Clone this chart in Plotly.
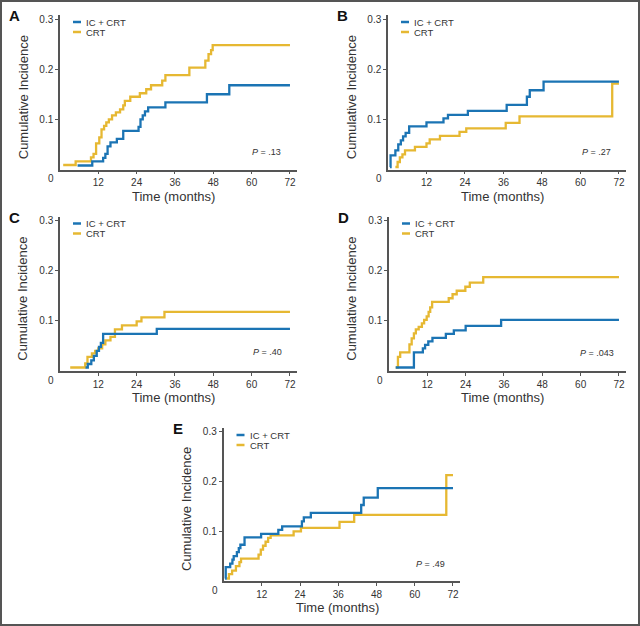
import plotly.graph_objects as go

# ---------------- data ----------------
x_tick_vals = [12, 24, 36, 48, 60, 72]
x_tick_labels = ["12", "24", "36", "48", "60", "72"]
y_tick_vals = [0.1, 0.2, 0.3]
y_tick_labels = ["0.1", "0.2", "0.3"]
series_names = ["IC + CRT", "CRT"]

# Panel A
a_ic_t = [5.5, 10.1, 13.5, 14.2, 14.9, 15.8, 17.8, 19.8, 24.6, 25.2, 25.9, 26.6, 27.6, 33.0, 46.0, 53.0, 72.0]
a_ic_v = [0.008, 0.016, 0.023, 0.031, 0.046, 0.054, 0.061, 0.077, 0.085, 0.100, 0.108, 0.116, 0.124, 0.134, 0.150, 0.168, 0.168]
a_crt_t = [1.0, 4.9, 9.7, 10.5, 11.3, 12.3, 13.0, 13.8, 14.5, 15.3, 16.3, 17.5, 18.8, 19.8, 20.3, 22.0, 25.0,
           27.0, 28.5, 32.0, 33.0, 40.5, 45.5, 46.5, 47.3, 47.8, 72.0]
a_crt_v = [0.009, 0.016, 0.024, 0.031, 0.052, 0.064, 0.080, 0.087, 0.094, 0.100, 0.108, 0.114, 0.120, 0.128, 0.137,
           0.145, 0.152, 0.160, 0.168, 0.177, 0.188, 0.203, 0.217, 0.230, 0.238, 0.248, 0.248]

# Panel B
b_ic_t = [0.6, 0.8, 2.3, 3.2, 4.0, 4.7, 5.5, 6.6, 12.0, 17.3, 18.7, 24.9, 37.0, 43.3, 44.2, 48.5, 72.0]
b_ic_v = [0.005, 0.028, 0.038, 0.050, 0.058, 0.066, 0.073, 0.086, 0.094, 0.102, 0.109, 0.117, 0.129, 0.145, 0.158, 0.175, 0.175]
b_crt_t = [2.3, 3.0, 3.7, 4.5, 5.3, 8.4, 12.0, 13.0, 16.2, 22.3, 24.4, 36.7, 41.0, 69.9, 72.0]
b_crt_v = [0.005, 0.015, 0.024, 0.030, 0.038, 0.045, 0.052, 0.060, 0.067, 0.075, 0.082, 0.093, 0.106, 0.171, 0.171]

# Panel C
c_ic_t = [8.0, 8.7, 9.8, 10.6, 11.5, 12.2, 12.8, 13.5, 30.3, 72.0]
c_ic_v = [0.007, 0.014, 0.021, 0.030, 0.040, 0.048, 0.056, 0.074, 0.084, 0.084]
c_crt_t = [3.2, 7.9, 8.6, 10.0, 11.0, 12.0, 13.2, 14.2, 15.8, 17.2, 19.4, 24.0, 25.5, 32.7, 72.0]
c_crt_v = [0.007, 0.015, 0.028, 0.035, 0.040, 0.045, 0.053, 0.061, 0.068, 0.083, 0.091, 0.099, 0.107, 0.118, 0.118]

# Panel D
d_ic_t = [2.1, 7.8, 10.6, 11.3, 12.3, 13.6, 17.8, 20.3, 24.0, 35.1, 72.0]
d_ic_v = [0.007, 0.037, 0.045, 0.052, 0.059, 0.066, 0.074, 0.081, 0.090, 0.102, 0.102]
d_crt_t = [2.1, 2.8, 3.5, 6.4, 7.1, 7.8, 8.4, 9.3, 10.3, 11.0, 11.8, 12.4, 12.9, 13.5, 18.7, 19.9, 21.2, 23.9,
           25.3, 29.5, 72.0]
d_crt_v = [0.007, 0.028, 0.037, 0.053, 0.065, 0.075, 0.083, 0.088, 0.095, 0.102, 0.109, 0.118, 0.127, 0.138,
           0.145, 0.153, 0.160, 0.168, 0.176, 0.187, 0.187]

# Panel E
e_ic_t = [0.5, 0.7, 2.1, 2.8, 3.2, 4.2, 4.8, 5.3, 6.6, 11.8, 17.2, 18.4, 24.6, 25.2, 27.4, 43.2, 44.0, 48.4, 72.0]
e_ic_v = [0.005, 0.028, 0.035, 0.043, 0.050, 0.058, 0.066, 0.073, 0.088, 0.095, 0.103, 0.110, 0.120, 0.128,
          0.137, 0.153, 0.168, 0.187, 0.187]
e_crt_t = [1.1, 1.7, 2.7, 3.9, 5.0, 5.5, 11.0, 11.7, 12.4, 13.2, 14.0, 14.8, 22.0, 24.3, 36.4, 41.0, 69.9, 72.0]
e_crt_v = [0.005, 0.014, 0.021, 0.030, 0.038, 0.045, 0.053, 0.063, 0.071, 0.079, 0.087, 0.092, 0.100, 0.107,
           0.119, 0.133, 0.213, 0.213]

p_values = ["<i>P</i> = .13", "<i>P</i> = .27", "<i>P</i> = .40", "<i>P</i> = .043", "<i>P</i> = .49"]
panel_letters = ["A", "B", "C", "D", "E"]

# ---------------- styling / layout ----------------
W, H = 640, 626
BLUE = "#1b74b4"
GOLD = "#e6b832"
AXC = "#555555"
TXT = "#333333"
SANS = "Liberation Sans, Arial, sans-serif"


def fx(px):
    return px / W


def fy(py):
    return 1 - py / H


# pixel boxes of each plot area: (left, right, top, bottom)
boxes = [
    (60, 297, 15, 169.5),
    (388, 626, 15, 169.5),
    (60, 297, 216.5, 371),
    (389, 626, 216.5, 371),
    (223.5, 460, 428, 581),
]
p_pos = [(69.9, 0.034), (70.0, 0.035), (70.0, 0.037), (71.2, 0.036), (70.2, 0.034)]

data = [
    ((a_ic_t, a_ic_v), (a_crt_t, a_crt_v)),
    ((b_ic_t, b_ic_v), (b_crt_t, b_crt_v)),
    ((c_ic_t, c_ic_v), (c_crt_t, c_crt_v)),
    ((d_ic_t, d_ic_v), (d_crt_t, d_crt_v)),
    ((e_ic_t, e_ic_v), (e_crt_t, e_crt_v)),
]

fig = go.Figure()
annotations = []
shapes = []
layout = {}

for i, (box, (ic, crt)) in enumerate(zip(boxes, data)):
    n = "" if i == 0 else str(i + 1)
    xa, ya = "x" + n, "y" + n
    l, r, t, b = box
    layout["xaxis" + n] = dict(
        domain=[fx(l), fx(r)], range=[0, 74.2], anchor=ya,
        tickvals=x_tick_vals, ticktext=x_tick_labels,
        showline=True, linecolor=AXC, linewidth=1.5,
        ticks="outside", ticklen=3, tickwidth=1, tickcolor=AXC,
        tickfont=dict(family=SANS, size=10, color=TXT),
        showgrid=False, zeroline=False, automargin=False,
    )
    layout["yaxis" + n] = dict(
        domain=[fy(b), fy(t)], range=[0, 0.308], anchor=xa,
        tickvals=y_tick_vals, ticktext=y_tick_labels,
        showline=True, linecolor=AXC, linewidth=1.5,
        ticks="outside", ticklen=3, tickwidth=1, tickcolor=AXC,
        tickfont=dict(family=SANS, size=10, color=TXT),
        showgrid=False, zeroline=False, automargin=False,
    )
    for (tt, vv), col, name in ((crt, GOLD, series_names[1]), (ic, BLUE, series_names[0])):
        fig.add_trace(go.Scatter(
            x=tt, y=vv, mode="lines", name=name, xaxis=xa, yaxis=ya,
            line=dict(shape="hv", color=col, width=2.3), showlegend=False,
            hoverinfo="skip",
        ))
    # origin label "0"
    annotations.append(dict(xref=xa, yref=ya, x=0, y=0, text="0", showarrow=False,
                            xanchor="center", yanchor="middle",
                            xshift=-9, yshift=-9, font=dict(family=SANS, size=10, color=TXT)))
    # axis titles
    annotations.append(dict(xref="paper", yref="paper", x=fx(l - 37), y=fy((t + b) / 2 + 5),
                            xanchor="center", yanchor="middle",
                            text="Cumulative Incidence", textangle=-90, showarrow=False,
                            font=dict(family=SANS, size=13, color=TXT)))
    annotations.append(dict(xref="paper", yref="paper", x=fx(l + 0.48 * (r - l)), y=fy(b + 26.5),
                            xanchor="center", yanchor="middle",
                            text="Time (months)", showarrow=False,
                            font=dict(family=SANS, size=13, color=TXT)))
    # panel letter
    annotations.append(dict(xref="paper", yref="paper", x=fx(l - 46), y=fy(t + 0.5),
                            xanchor="center", yanchor="middle",
                            text="<b>" + panel_letters[i] + "</b>", showarrow=False,
                            font=dict(family=SANS, size=15, color="#111111")))
    # P value
    annotations.append(dict(xref=xa, yref=ya, x=p_pos[i][0], y=p_pos[i][1], text=p_values[i],
                            showarrow=False, xanchor="right", yanchor="middle",
                            font=dict(family=SANS, size=9, color=TXT)))
    # legend
    for k, (col, name) in enumerate(((BLUE, series_names[0]), (GOLD, series_names[1]))):
        yy = t + 7 + 10 * k
        shapes.append(dict(type="line", xref="paper", yref="paper",
                           x0=fx(l + 13), x1=fx(l + 21), y0=fy(yy), y1=fy(yy),
                           line=dict(color=col, width=2.5)))
        annotations.append(dict(xref="paper", yref="paper", x=fx(l + 24), y=fy(yy), text=name,
                                showarrow=False, xanchor="left", yanchor="middle",
                                font=dict(family=SANS, size=9.5, color=TXT)))

# outer frame
shapes.append(dict(type="rect", xref="paper", yref="paper", x0=fx(1), x1=fx(639), y0=fy(625), y1=fy(1),
                   line=dict(color="#555555", width=2)))

fig.update_layout(
    width=W, height=H, margin=dict(l=0, r=0, t=0, b=0),
    paper_bgcolor="white", plot_bgcolor="white",
    annotations=annotations, shapes=shapes, showlegend=False,
    **layout,
)

fig.write_html("out.html", config={"displayModeBar": False},
               post_script="document.body.style.margin='0';document.body.style.overflow='hidden';")
